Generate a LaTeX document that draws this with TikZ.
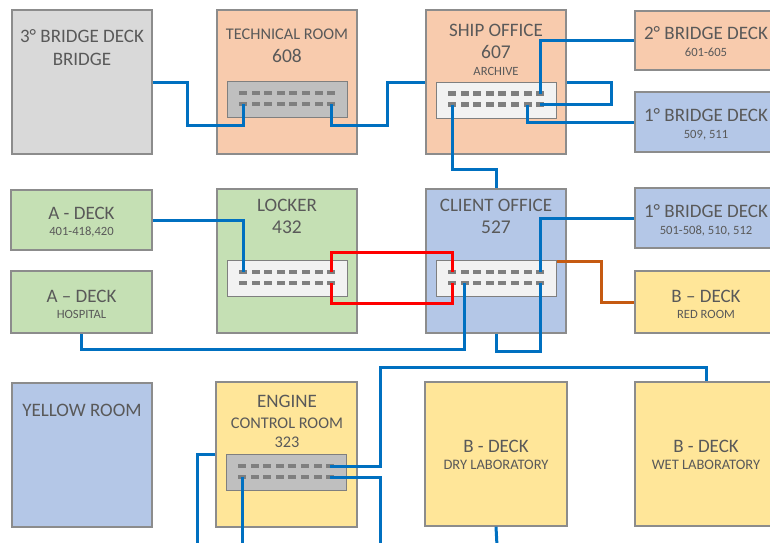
\documentclass[tikz,border=0pt]{standalone}
\usepackage{fontspec}
\setmainfont{Carlito}
\definecolor{txt}{HTML}{595959}
\definecolor{boxgray}{HTML}{D9D9D9}
\definecolor{peach}{HTML}{F8CBAD}
\definecolor{green}{HTML}{C5E0B4}
\definecolor{blue}{HTML}{B4C7E7}
\definecolor{yellow}{HTML}{FFE699}
\definecolor{swdark}{HTML}{BFBFBF}
\definecolor{swlight}{HTML}{F2F2F2}
\definecolor{portc}{HTML}{7F7F7F}
\definecolor{netblue}{HTML}{0070C0}
\definecolor{netred}{HTML}{FF0000}
\definecolor{netorange}{HTML}{C55A11}
\definecolor{edge}{HTML}{8C8C8C}
\tikzset{
  room/.style={draw=edge, line width=1.3pt, inner sep=0pt},
  sw/.style={draw=portc, line width=1.3pt, minimum width=120pt, minimum height=36pt, inner sep=0pt},
  port/.style={fill=portc, minimum width=8pt, minimum height=4.5pt, inner sep=0pt},
  net/.style={netblue, line width=3pt},
  netr/.style={netred, line width=3pt},
  neto/.style={netorange, line width=3pt},
  lbig/.style={text=txt, inner sep=0pt, font=\fontsize{19}{21}\selectfont},
  lnum/.style={text=txt, inner sep=0pt, font=\fontsize{19.5}{21}\selectfont},
  lsm/.style={text=txt, inner sep=0pt, font=\fontsize{16.3}{18}\selectfont},
  lsub/.style={text=txt, inner sep=0pt, font=\fontsize{12.6}{14}\selectfont},
  llab/.style={text=txt, inner sep=0pt, font=\fontsize{14.5}{16}\selectfont},
}
\newcommand\netswitch[4]{%
  \node[sw, fill=#4, anchor=north west] (#1) at (#2,#3) {};
  \foreach \i in {1,...,8} {
    \node[port] (#1a\i) at ({#2+16+12.6*(\i-1)},{#3+12}) {};
    \node[port] (#1b\i) at ({#2+16+12.6*(\i-1)},{#3+23}) {};
  }
}
\begin{document}
\begin{tikzpicture}[x=1pt,y=-1pt]
\clip (0,0) rectangle (770,542);
\fill[white] (0,0) rectangle (770,542);
% rooms
\node[room, fill=boxgray, minimum width=140pt, minimum height=144pt] (b3) at (82,82) {};
\node[room, fill=peach, minimum width=140pt, minimum height=144pt] (tr) at (287,82) {};
\node[room, fill=peach, minimum width=140pt, minimum height=144pt] (so) at (496,82) {};
\node[room, fill=peach, minimum width=142pt, minimum height=59pt] (bd2) at (706,40.5) {};
\node[room, fill=blue, minimum width=142pt, minimum height=60pt] (bd1) at (706,122) {};
\node[room, fill=green, minimum width=141pt, minimum height=60pt] (ad) at (81.5,220) {};
\node[room, fill=green, minimum width=141pt, minimum height=62pt] (hosp) at (81.5,302) {};
\node[room, fill=green, minimum width=140pt, minimum height=144pt] (lk) at (287,261) {};
\node[room, fill=blue, minimum width=140pt, minimum height=144pt] (co) at (496,261) {};
\node[room, fill=blue, minimum width=142pt, minimum height=60pt] (bd1b) at (706,218) {};
\node[room, fill=yellow, minimum width=142pt, minimum height=62pt] (rr) at (706,302) {};
\node[room, fill=blue, minimum width=140pt, minimum height=144pt] (yr) at (82,455) {};
\node[room, fill=yellow, minimum width=141pt, minimum height=145pt] (ecr) at (286.5,454.5) {};
\node[room, fill=yellow, minimum width=142pt, minimum height=144pt] (dl) at (496,454) {};
\node[room, fill=yellow, minimum width=142pt, minimum height=144pt] (wl) at (706,454) {};
% labels
\node[lbig] (t-b3a) at (82,36) {3° BRIDGE DECK};
\node[lbig] (t-b3b) at (82,59) {BRIDGE};
\node[lsm] (t-tra) at (287,34) {TECHNICAL ROOM};
\node[lnum] (t-trb) at (287,56) {608};
\node[lbig] (t-soa) at (496,30) {SHIP OFFICE};
\node[lnum] (t-sob) at (496,52) {607};
\node[lsub] (t-soc) at (496,71) {ARCHIVE};
\node[lbig] (t-bd2a) at (706,33) {2° BRIDGE DECK};
\node[lsub] (t-bd2b) at (706,52) {601-605};
\node[lbig] (t-bd1a) at (706,115) {1° BRIDGE DECK};
\node[lsub] (t-bd1b) at (706,135) {509, 511};
\node[lbig] (t-ada) at (81.5,213) {A - DECK};
\node[lsub] (t-adb) at (81.5,232) {401-418,420};
\node[lbig] (t-hoa) at (81.5,296) {A – DECK};
\node[lsub] (t-hob) at (81.5,314) {HOSPITAL};
\node[lbig] (t-lka) at (287,205) {LOCKER};
\node[lnum] (t-lkb) at (287,227) {432};
\node[lbig] (t-coa) at (496,205) {CLIENT OFFICE};
\node[lnum] (t-cob) at (496,227) {527};
\node[lbig] (t-bd3a) at (706,211) {1° BRIDGE DECK};
\node[lsub] (t-bd3b) at (706,231) {501-508, 510, 512};
\node[lbig] (t-rra) at (706,296) {B – DECK};
\node[lsub] (t-rrb) at (706,314) {RED ROOM};
\node[lbig] (t-yr) at (82,410) {YELLOW ROOM};
\node[lbig] (t-eca) at (287,401) {ENGINE};
\node[lsm] (t-ecb) at (287,423) {CONTROL ROOM};
\node[lsm] (t-ecc) at (287,442) {323};
\node[lbig] (t-dla) at (496,446) {B - DECK};
\node[llab] (t-dlb) at (496,465) {DRY LABORATORY};
\node[lbig] (t-wla) at (706,446) {B - DECK};
\node[llab] (t-wlb) at (706,465) {WET LABORATORY};
% switches
\netswitch{ts}{227}{81}{swdark}
\netswitch{ss}{436}{81.5}{swlight}
\netswitch{ls}{227}{260}{swlight}
\netswitch{cs}{436}{260}{swlight}
\netswitch{es}{226}{454}{swdark}
% free ends at the bottom edge
\coordinate (bot1) at (197,546);
\coordinate (bot2) at (242,546);
\coordinate (bot3) at (380,546);
\coordinate (bot4) at (497,546);
% connectors
\draw[net] (b3.east) -| (187,125) -| (tsb1.center);
\draw[net] (tsb8.center) |- (387,125) |- (so.west);
\draw[net] (bd2.west) -| (ssa8.center);
\draw[net] (ssb8.center) -| (611,82) -- (so.east);
\draw[net] (ssb7.center) |- (bd1.west);
\draw[net] (ssb1.center) |- (co.north |- 0,169) -- (co.north);
\draw[net] (ad.east) -| (lsa1.center);
\draw[netr] (lsa8.center) |- (csa1.center |- 0,252) -- (csa1.center);
\draw[netr] (lsb8.center) |- (csb1.center |- 0,303) -- (csb1.center);
\draw[net] (csa8.center) |- (bd1b.west);
\draw[neto] (cs.east |- 0,261) -| (601,302) -- (rr.west);
\draw[net] (csb2.center) |- (hosp.south |- 0,349) -- (hosp.south);
\draw[net] (csb8.center) |- (co.south |- 0,351) -- (co.south);
\draw[net] (esa8.center) -| (380,367) -| (wl.north);
\draw[net] (esb8.center) -| (bot3);
\draw[net] (esb1.center) -- (bot2);
\draw[net] (ecr.west) -| (bot1);
\draw[net] (dl.south) -- (bot4);
\end{tikzpicture}
\end{document}
